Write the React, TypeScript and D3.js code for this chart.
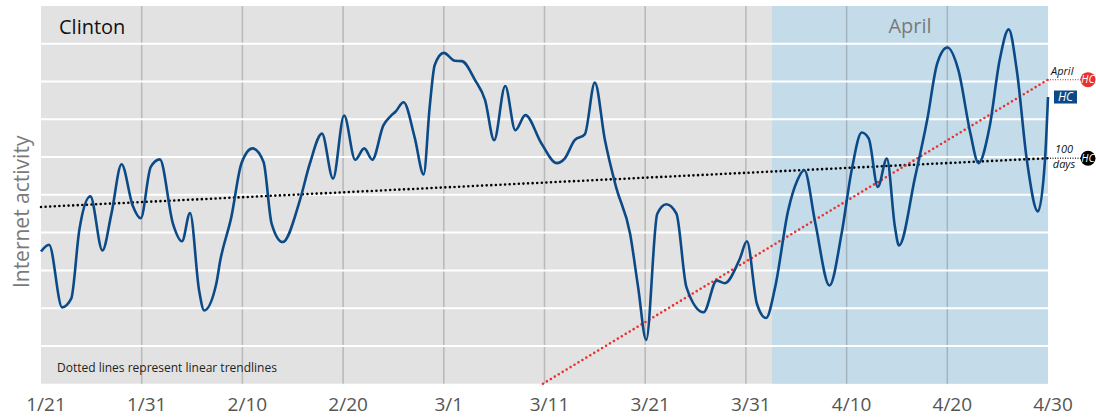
import { useMemo } from 'react';
import * as d3 from 'd3';

// =============================================================================
// Data
// =============================================================================

// day offset from 1/21 and relative internet activity (0..10)
const days = [
  0, 0.8, 2.1, 3.0, 3.8, 4.9, 6.1, 7.0, 8.0, 9.1, 9.9, 10.9, 11.8, 13.1, 14.0, 14.8,
  15.7, 16.2, 17.4, 17.8, 18.9, 19.9, 21.0, 22.1, 22.9, 24.0, 25.7, 26.7, 27.9, 29.0,
  30.1, 31.2, 32.1, 32.9, 34.0, 34.7, 35.2, 36.0, 37.1, 38.0, 38.6, 39.1, 40.0, 41.1,
  41.8, 43.1, 44.1, 45.0, 46.1, 47.1, 48.1, 49.7, 51.2, 52.0, 53.0, 54.0, 55.0, 56.0,
  57.1, 58.5, 59.3, 60.1, 61.2, 62.1, 63.1, 64.1, 65.8, 67.1, 67.9, 69.4, 70.1, 71.1,
  72.0, 72.9, 74.2, 75.1, 75.8, 76.9, 78.3, 79.5, 80.5, 81.5, 82.2, 83.1, 84.0, 84.8,
  85.2, 86.8, 88.0, 89.0, 90.0, 91.1, 92.3, 93.1, 94.2, 95.2, 96.1, 96.9, 97.9, 99.0,
  99.7, 100,
];
const activity = [
  3.5, 3.68, 2.02, 2.25, 4.06, 4.96, 3.53, 4.51, 5.81, 4.72, 4.38, 5.74, 5.94, 4.24, 3.77, 4.52,
  2.47, 1.94, 2.64, 3.26, 4.41, 5.83, 6.23, 5.87, 4.24, 3.75, 4.85, 5.83, 6.62, 5.43,
  7.1, 5.93, 6.23, 5.93, 6.84, 7.08, 7.2, 7.45, 6.53, 5.54, 7.33, 8.44, 8.76, 8.55,
  8.54, 8.04, 7.51, 6.45, 7.88, 6.71, 7.11, 6.36, 5.84, 5.96, 6.45, 6.6, 7.97, 6.45,
  5.21, 3.97, 2.55, 1.16, 4.5, 4.75, 4.5, 2.55, 1.89, 2.73, 2.66, 3.31, 3.77, 2.11,
  1.74, 2.55, 4.59, 5.38, 5.65, 4.24, 2.6, 3.97, 5.65, 6.65, 6.49, 5.21, 5.96, 4.15,
  3.66, 5.47, 6.98, 8.48, 8.9, 8.3, 6.62, 5.84, 6.8, 8.57, 9.38, 8.3, 5.92, 4.56,
  5.92, 7.59,
];

// linear trendlines: [startDay, startValue, endDay, endValue]
const trend100 = [0, 4.68, 100, 5.97];
const trendApril = [49.85, 0, 100, 8.05];

const aprilStart = 72.6;
const tickDays = [0, 10, 20, 30, 40, 50, 60, 70, 80, 90, 100];
const tickLabels = ['1/21', '1/31', '2/10', '2/20', '3/1', '3/11', '3/21', '3/31', '4/10', '4/20', '4/30'];
const gridValues = [1, 2, 3, 4, 5, 6, 7, 8, 9];

// =============================================================================
// Constants
// =============================================================================

const WIDTH = 1096;
const HEIGHT = 418;
const PLOT = { left: 41, right: 1048, top: 6, bottom: 383.7 };
const FONT = '"Open Sans", sans-serif';

const colors = {
  bg: '#e2e2e2',
  april: '#c4dcea',
  line: '#0b4a86',
  red: '#e8322e',
  tick: '#555555',
  muted: '#7a7a7a',
};

export default function App() {
  const x = useMemo(() => d3.scaleLinear().domain([0, 100]).range([PLOT.left, PLOT.right]), []);
  const y = useMemo(() => d3.scaleLinear().domain([0, 10]).range([PLOT.bottom, PLOT.top]), []);

  const points = days.map((d, i) => [d, activity[i]] as [number, number]);
  const linePath = d3
    .line<[number, number]>()
    .x((d) => x(d[0]))
    .y((d) => y(d[1]))
    .curve(d3.curveMonotoneX)(points) || '';

  const endVal = activity[activity.length - 1];
  const xe = x(100);

  const dotted = { strokeDasharray: '0 4.6', strokeLinecap: 'round' as const, strokeWidth: 2.6 };

  return (
    <svg width={WIDTH} height={HEIGHT} style={{ position: 'absolute', left: 0, top: 0 }}>
      <rect x={PLOT.left} y={PLOT.top} width={PLOT.right - PLOT.left} height={PLOT.bottom - PLOT.top} fill={colors.bg} />
      <rect x={x(aprilStart)} y={PLOT.top} width={x(100) - x(aprilStart)} height={PLOT.bottom - PLOT.top} fill={colors.april} />

      {/* vertical grid */}
      {tickDays.slice(1, -1).map((d) => (
        <line key={d} x1={x(d)} x2={x(d)} y1={PLOT.top} y2={PLOT.bottom} stroke="rgba(90,90,90,0.3)" strokeWidth={1.5} />
      ))}
      {/* horizontal grid */}
      {gridValues.map((v) => (
        <line key={v} x1={PLOT.left} x2={PLOT.right} y1={y(v)} y2={y(v)} stroke="#ffffff" strokeWidth={2} />
      ))}

      <text x={59} y={34} fontFamily={FONT} fontSize={20} fill="#111">Clinton</text>
      <text x={(x(aprilStart) + x(100)) / 2} y={33} textAnchor="middle" fontFamily={FONT} fontSize={20} fill={colors.muted}>April</text>
      <text x={57} y={371.5} fontFamily={FONT} fontSize={12} fill="#222">Dotted lines represent linear trendlines</text>

      {/* trendlines */}
      <line x1={x(trend100[0])} y1={y(trend100[1])} x2={x(trend100[2])} y2={y(trend100[3])} stroke="#000" {...dotted} />
      <line x1={x(trendApril[0])} y1={y(trendApril[1])} x2={x(trendApril[2])} y2={y(trendApril[3])} stroke={colors.red} {...dotted} />

      <path d={linePath} fill="none" stroke={colors.line} strokeWidth={2.6} strokeLinejoin="round" />

      {/* right-side annotations */}
      <line x1={xe} x2={xe + 34} y1={y(trendApril[3])} y2={y(trendApril[3])} stroke={colors.red} strokeDasharray="0 2.5" strokeLinecap="round" strokeWidth={1.2} />
      <text x={xe + 3} y={y(trendApril[3]) - 5} fontFamily={FONT} fontStyle="italic" fontSize={11} fill="#111">April</text>
      <circle cx={xe + 40} cy={y(trendApril[3])} r={7.5} fill={colors.red} />
      <text x={xe + 40} y={y(trendApril[3]) + 3.8} textAnchor="middle" fontFamily={FONT} fontStyle="italic" fontSize={10.5} fill="#fff">HC</text>

      <rect x={xe + 6} y={y(endVal) - 6.5} width={23} height={13} fill={colors.line} />
      <text x={xe + 17.5} y={y(endVal) + 4.3} textAnchor="middle" fontFamily={FONT} fontStyle="italic" fontSize={12} fill="#fff">HC</text>

      <line x1={xe} x2={xe + 34} y1={y(trend100[3])} y2={y(trend100[3])} stroke="#000" strokeDasharray="0 2.5" strokeLinecap="round" strokeWidth={1.2} />
      <text x={xe + 16} y={y(trend100[3]) - 5} textAnchor="middle" fontFamily={FONT} fontStyle="italic" fontSize={11} fill="#111">100</text>
      <text x={xe + 16} y={y(trend100[3]) + 10} textAnchor="middle" fontFamily={FONT} fontStyle="italic" fontSize={11} fill="#111">days</text>
      <circle cx={xe + 40} cy={y(trend100[3])} r={7.5} fill="#000" />
      <text x={xe + 40} y={y(trend100[3]) + 3.8} textAnchor="middle" fontFamily={FONT} fontStyle="italic" fontSize={10.5} fill="#fff">HC</text>

      {/* x axis labels */}
      {tickDays.map((d, i) => (
        <text key={d} x={x(d) + 5} y={411} textAnchor="middle" fontFamily={FONT} fontSize={19} fill={colors.tick}>{tickLabels[i]}</text>
      ))}

      <text transform={`translate(29,${(PLOT.top + PLOT.bottom) / 2 + 17}) rotate(-90)`} textAnchor="middle" fontFamily={FONT} fontSize={21} fill={colors.muted}>Internet activity</text>
    </svg>
  );
}
